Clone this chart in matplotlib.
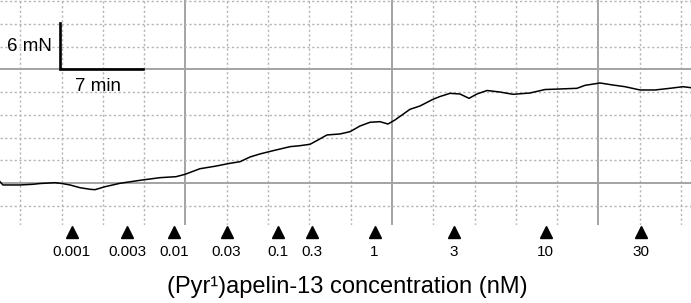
import matplotlib
matplotlib.use("Agg")
import matplotlib.pyplot as plt
import matplotlib.ticker as mticker
from matplotlib.transforms import blended_transform_factory

plt.rcParams.update({
    "font.family": ["Liberation Sans", "DejaVu Sans"],
    "lines.scale_dashes": False,
})

# trace: time (min) vs tension (mN)
time_min = [1.78, 2.03, 3.47, 4.58, 5.17, 6.44, 7.03, 7.71, 8.56, 9.41, 9.83,
            10.68, 11.95, 13.64, 15.34, 16.70, 17.46, 18.73, 20.00, 21.27,
            22.12, 22.97, 23.81, 24.92, 26.36, 27.20, 28.05, 28.73, 29.49,
            30.59, 31.44, 32.29, 33.14, 33.98, 34.66, 35.25, 36.53, 37.37,
            38.47, 39.07, 39.92, 40.76, 41.53, 42.20, 43.05, 44.15, 45.25,
            46.69, 47.97, 49.24, 50.68, 51.36, 52.63, 53.73, 54.75, 56.02,
            57.29, 58.56, 59.66, 60.34]
force_mN = [0.21, -0.22, -0.22, -0.13, -0.03, 0.08, -0.03, -0.22, -0.58, -0.79,
            -0.84, -0.45, 0.00, 0.39, 0.74, 0.87, 1.18, 1.92, 2.24, 2.63,
            2.84, 3.46, 3.86, 4.29, 4.82, 4.95, 5.13, 5.70, 6.36,
            6.49, 6.79, 7.54, 8.03, 8.11, 7.80, 8.33, 9.74, 10.17,
            11.05, 11.42, 11.84, 11.75, 11.18, 11.75, 12.21, 12.01, 11.71,
            11.88, 12.34, 12.41, 12.50, 12.89, 13.20, 12.93, 12.71, 12.28,
            12.28, 12.50, 12.71, 12.58]

# agonist additions
dose_time_min = [7.86, 12.57, 16.53, 20.99, 25.36, 28.20, 33.52, 40.25, 48.01, 56.10]
dose_labels = ["0.001", "0.003", "0.01", "0.03", "0.1", "0.3", "1", "3", "10", "30"]

# calibration bar
SCALE_MIN = 7
SCALE_MN = 6
SCALE_ORIGIN = (6.9, 15.1)

fig = plt.figure(figsize=(6.91, 3.03), dpi=100)
ax = fig.add_axes([0, 0.2574, 1, 0.7426])

ax.plot(time_min, force_mN, color="black", lw=1.1, zorder=3)

x0, y0 = SCALE_ORIGIN
ax.plot([x0, x0, x0 + SCALE_MIN], [y0 + SCALE_MN, y0, y0],
        color="black", lw=1.9, solid_joinstyle="miter", zorder=4)
ax.text(x0 - 0.7, y0 + SCALE_MN / 2 - 0.1, f"{SCALE_MN} mN",
        ha="right", va="center", fontsize=13.5)
ax.text(x0 + 3.2, y0 - 2.4, f"{SCALE_MIN} min",
        ha="center", va="center", fontsize=13.5)

ax.set_xlim(1.78, 60.34)
ax.set_ylim(-5.49, 24.12)
ax.xaxis.set_major_locator(mticker.MultipleLocator(17.5))
ax.xaxis.set_minor_locator(mticker.MultipleLocator(3.5))
ax.yaxis.set_major_locator(mticker.MultipleLocator(15))
ax.yaxis.set_minor_locator(mticker.MultipleLocator(3))
ax.grid(which="major", color="#a3a3a3", lw=1.4, ls="-")
ax.grid(which="minor", color="#b5b5b5", lw=1.0, ls=(0, (1.6, 1.8)))
ax.set_axisbelow(True)
ax.tick_params(which="both", length=0, labelbottom=False, labelleft=False)
for sp in ax.spines.values():
    sp.set_visible(False)

trans = blended_transform_factory(ax.transData, fig.transFigure)
ax.plot(dose_time_min, [0.2343] * len(dose_time_min), ls="none", marker="^",
        ms=8.6, color="black", transform=trans, clip_on=False)
for t, lab in zip(dose_time_min, dose_labels):
    fig.text(t, 0.1677, lab, transform=trans, ha="center", va="center", fontsize=11)

fig.text(0.503, 0.053, "(Pyr¹)apelin-13 concentration (nM)",
         ha="center", va="center", fontsize=17)

fig.savefig("out.png", dpi=100)
